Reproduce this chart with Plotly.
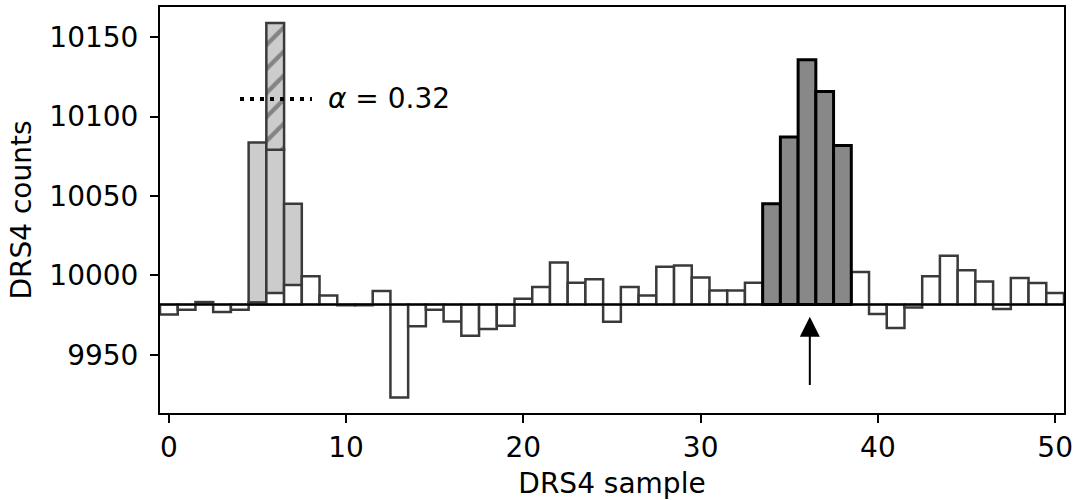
import plotly.graph_objects as go

samples = list(range(51))
counts = [9975.4, 9978.4, 9983.2, 9976.9, 9978.4, 9983.0, 9988.9, 9993.9, 9999.4, 9987.4,
          9981.2, 9981.2, 9990.2, 9923.1, 9967.9, 9978.4, 9971.0, 9962.0, 9966.2, 9968.3,
          9985.3, 9992.7, 10008.2, 9995.4, 9997.5, 9970.8, 9992.7, 9987.4, 10005.5, 10006.3,
          9998.7, 9990.5, 9990.5, 9995.4, 10045.2, 10087.2, 10135.9, 10115.9, 10081.9, 10002.1,
          9975.7, 9966.9, 9979.8, 9999.4, 10012.4, 10003.2, 9996.2, 9978.8, 9998.4, 9995.2,
          9988.9]
pulse_samples = [34, 35, 36, 37, 38]

# spike before correction
spike_samples = [5, 6, 7]
spike_counts = [10083.8, 10079.2, 10045.2]
clipped_sample = [6]
clipped_low = [10079.2]
clipped_high = [10159.0]

baseline = 9981.7
arrow_x = 36.16
arrow_tip = 9974.0
arrow_tail = 9930.0
alpha_label = "<i>α</i> = 0.32"

FONT = "DejaVu Sans"
FS = 28
EDGE = "#3a3a3a"

other = [s for s in samples if s not in pulse_samples]

fig = go.Figure()

fig.add_trace(go.Bar(
    x=spike_samples, y=[c - baseline for c in spike_counts], base=baseline, width=1,
    marker=dict(color="#cccccc", line=dict(color=EDGE, width=2.5)),
))
fig.add_trace(go.Bar(
    x=clipped_sample, y=[h - l for h, l in zip(clipped_high, clipped_low)], base=clipped_low, width=1,
    marker=dict(color="#cccccc", line=dict(color=EDGE, width=2.5),
                pattern=dict(shape="/", fgcolor=EDGE, bgcolor="#cccccc", size=17, solidity=0.25)),
))
fig.add_trace(go.Bar(
    x=other, y=[counts[s] - baseline for s in other], base=baseline, width=1,
    marker=dict(color="white", line=dict(color=EDGE, width=2.5)),
))
fig.add_trace(go.Bar(
    x=pulse_samples, y=[counts[s] - baseline for s in pulse_samples], base=baseline, width=1,
    marker=dict(color="#888888", line=dict(color="black", width=3)),
))

fig.add_hline(y=baseline, line=dict(color="black", width=2))

fig.add_annotation(
    x=arrow_x, y=arrow_tip, ax=arrow_x, ay=arrow_tail, xref="x", yref="y", axref="x", ayref="y",
    showarrow=True, arrowhead=2, arrowsize=2, arrowwidth=2, arrowcolor="black", text="",
)

# legend-like entry for the dotted line (page pixels -> paper coords)
px0, py0, pw, ph = 160, 7, 904, 406
ly = 1 - (99 - py0) / ph
fig.add_shape(type="line", xref="paper", yref="paper",
              x0=(240 - px0) / pw, x1=(312 - px0) / pw, y0=ly, y1=ly,
              line=dict(color="black", width=4, dash="4px,6px"))
fig.add_annotation(text=alpha_label, xref="paper", yref="paper",
                   x=(326 - px0) / pw, y=ly, xanchor="left", yanchor="middle",
                   showarrow=False, font=dict(family=FONT, size=FS, color="black"))

axis_common = dict(showline=True, linecolor="black", linewidth=2, mirror=True, ticks="outside",
                   ticklen=8, tickwidth=2, tickcolor="black", showgrid=False, zeroline=False,
                   tickformat="d", ticklabeloverflow="allow",
                   tickfont=dict(family=FONT, size=FS, color="black"))
fig.update_xaxes(range=[-0.5, 50.5], tickvals=[0, 10, 20, 30, 40, 50],
                 title=dict(text="DRS4 sample", font=dict(family=FONT, size=FS, color="black"), standoff=12),
                 **axis_common)
fig.update_yaxes(range=[9913.3, 10169.1], tickvals=[9950, 10000, 10050, 10100, 10150],
                 ticklabelstandoff=6,
                 title=dict(text="DRS4 counts", font=dict(family=FONT, size=FS, color="black"), standoff=10),
                 **axis_common)

fig.update_layout(
    width=1077, height=500, barmode="overlay", showlegend=False,
    plot_bgcolor="white", paper_bgcolor="white",
    margin=dict(l=160, r=13, t=7, b=87, autoexpand=False),
    font=dict(family=FONT),
)

fig.write_html("out.html", config={"displayModeBar": False})

# drop the default body margin so the figure fills the window exactly
with open("out.html") as f:
    html = f.read()
with open("out.html", "w") as f:
    f.write(html.replace("<body>", '<body style="margin:0">', 1))
